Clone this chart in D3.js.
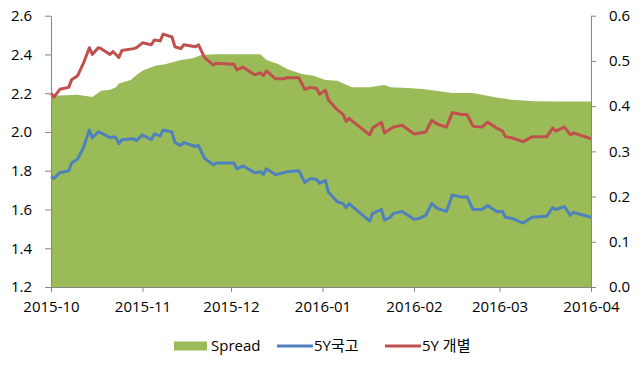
<!DOCTYPE html>
<html>
<head>
<meta charset="utf-8">
<script src="https://d3js.org/d3.v7.min.js"></script>
<style>
  body { margin: 0; background: #fff; }
  text { font-family: "Open Sans", "Noto Sans CJK KR", sans-serif; }
</style>
</head>
<body>
<script>
// dates shared by both yield lines
const lineDates = ['2015-10-01','2015-10-02','2015-10-04','2015-10-07','2015-10-08','2015-10-10','2015-10-12','2015-10-14','2015-10-15','2015-10-17','2015-10-18','2015-10-21','2015-10-22','2015-10-23','2015-10-24','2015-10-25','2015-10-29','2015-10-30','2015-11-01','2015-11-04','2015-11-05','2015-11-07','2015-11-08','2015-11-11','2015-11-12','2015-11-14','2015-11-15','2015-11-19','2015-11-20','2015-11-22','2015-11-25','2015-11-26','2015-12-02','2015-12-03','2015-12-05','2015-12-09','2015-12-11','2015-12-12','2015-12-13','2015-12-16','2015-12-19','2015-12-20','2015-12-24','2015-12-26','2015-12-28','2015-12-30','2015-12-31','2016-01-02','2016-01-03','2016-01-06','2016-01-08','2016-01-09','2016-01-10','2016-01-17','2016-01-18','2016-01-21','2016-01-22','2016-01-24','2016-01-25','2016-01-28','2016-02-01','2016-02-03','2016-02-05','2016-02-07','2016-02-09','2016-02-12','2016-02-14','2016-02-17','2016-02-19','2016-02-21','2016-02-24','2016-02-26','2016-02-29','2016-03-02','2016-03-03','2016-03-05','2016-03-09','2016-03-12','2016-03-17','2016-03-19','2016-03-20','2016-03-23','2016-03-25','2016-03-26','2016-04-01'];

// 5Y국고 (left axis)
const ktb5y = [1.77,1.76,1.79,1.80,1.84,1.86,1.92,2.01,1.97,2.00,1.995,1.97,1.975,1.97,1.94,1.96,1.965,1.955,1.985,1.96,1.99,1.98,2.01,2.00,1.945,1.93,1.945,1.925,1.93,1.865,1.83,1.84,1.84,1.81,1.825,1.79,1.795,1.78,1.81,1.78,1.79,1.795,1.80,1.74,1.76,1.755,1.735,1.75,1.69,1.64,1.63,1.61,1.63,1.54,1.58,1.60,1.545,1.56,1.58,1.59,1.55,1.555,1.57,1.63,1.605,1.59,1.675,1.665,1.665,1.60,1.60,1.62,1.59,1.59,1.56,1.555,1.53,1.56,1.565,1.61,1.60,1.615,1.57,1.585,1.56];

// 5Y 개별 (left axis)
const ind5y = [2.20,2.18,2.22,2.23,2.27,2.29,2.355,2.435,2.40,2.435,2.43,2.40,2.415,2.40,2.385,2.42,2.43,2.435,2.46,2.45,2.475,2.47,2.505,2.49,2.44,2.43,2.45,2.44,2.45,2.385,2.345,2.355,2.35,2.32,2.335,2.295,2.305,2.29,2.315,2.275,2.275,2.28,2.28,2.22,2.23,2.225,2.195,2.215,2.165,2.115,2.09,2.055,2.07,1.985,2.02,2.05,1.995,2.015,2.025,2.035,1.99,1.995,2.00,2.06,2.04,2.025,2.10,2.09,2.09,2.03,2.025,2.05,2.02,2.005,1.975,1.97,1.95,1.975,1.975,2.02,2.005,2.025,1.985,1.995,1.965];

// Spread (right axis)
const spreadDates = ['2015-10-01','2015-10-10','2015-10-15','2015-10-18','2015-10-21','2015-10-23','2015-10-24','2015-10-28','2015-10-30','2015-11-01','2015-11-05','2015-11-09','2015-11-14','2015-11-18','2015-11-21','2015-11-26','2015-12-11','2015-12-13','2015-12-17','2015-12-20','2015-12-25','2015-12-29','2016-01-02','2016-01-06','2016-01-11','2016-01-17','2016-01-22','2016-01-24','2016-01-30','2016-02-04','2016-02-14','2016-02-21','2016-02-28','2016-03-05','2016-03-13','2016-03-22','2016-04-01'];
const spread = [0.423,0.425,0.42,0.434,0.436,0.442,0.45,0.458,0.469,0.478,0.489,0.493,0.502,0.506,0.513,0.515,0.515,0.502,0.493,0.482,0.471,0.467,0.458,0.456,0.442,0.442,0.447,0.442,0.44,0.438,0.429,0.429,0.42,0.414,0.411,0.41,0.41];

const monthTicks = ['2015-10-01','2015-11-01','2015-12-01','2016-01-01','2016-02-01','2016-03-01','2016-04-01'];
const leftTicks = [1.2,1.4,1.6,1.8,2.0,2.2,2.4,2.6];
const rightTicks = [0.0,0.1,0.2,0.3,0.4,0.5,0.6];

const width = 644, height = 368;
const margin = { top: 15.7, right: 53, bottom: 81, left: 51 };
const parse = d3.timeParse('%Y-%m-%d');

const green = '#9bbb59', blue = '#4f81bd', red = '#c0504d', axisGray = '#868686';

const x = d3.scaleTime()
    .domain([parse('2015-10-01'), parse('2016-04-01')])
    .range([margin.left, width - margin.right]);
const yL = d3.scaleLinear().domain([1.2, 2.6]).range([height - margin.bottom, margin.top]);
const yR = d3.scaleLinear().domain([0, 0.6]).range([height - margin.bottom, margin.top]);

const svg = d3.select('body').append('svg')
    .attr('width', width).attr('height', height);

const spreadData = spreadDates.map((d, i) => ({ d: parse(d), v: spread[i] }));
svg.append('path')
    .datum(spreadData)
    .attr('fill', green)
    .attr('d', d3.area().x(d => x(d.d)).y0(yR(0)).y1(d => yR(d.v)));

const lineData = arr => lineDates.map((d, i) => ({ d: parse(d), v: arr[i] }));
const line = d3.line().x(d => x(d.d)).y(d => yL(d.v));

svg.append('path').datum(lineData(ktb5y))
    .attr('fill', 'none').attr('stroke', blue).attr('stroke-width', 3)
    .attr('stroke-linejoin', 'round').attr('d', line);
svg.append('path').datum(lineData(ind5y))
    .attr('fill', 'none').attr('stroke', red).attr('stroke-width', 3)
    .attr('stroke-linejoin', 'round').attr('d', line);

function styleAxis(g) {
  g.selectAll('.domain').attr('stroke', axisGray);
  g.selectAll('.tick line').attr('stroke', axisGray);
  g.selectAll('.tick text').attr('fill', '#000').style('font-size', '15px');
}

svg.append('g')
    .attr('transform', `translate(${margin.left},0)`)
    .call(d3.axisLeft(yL).tickValues(leftTicks).tickFormat(d3.format('.1f')).tickSize(6).tickSizeOuter(0).tickPadding(13))
    .call(styleAxis);

svg.append('g')
    .attr('transform', `translate(${width - margin.right},0)`)
    .call(d3.axisRight(yR).tickValues(rightTicks).tickFormat(d3.format('.1f')).tickSize(5).tickSizeOuter(0).tickPadding(13))
    .call(styleAxis);

svg.append('g')
    .attr('transform', `translate(0,${height - margin.bottom})`)
    .call(d3.axisBottom(x).tickValues(monthTicks.map(parse)).tickFormat(d3.timeFormat('%Y-%m')).tickSize(5).tickSizeOuter(0).tickPadding(9))
    .call(styleAxis);

// legend
const legend = svg.append('g').style('font-size', '15px');
const ly = 346;
legend.append('rect').attr('x', 174).attr('y', ly - 4.5).attr('width', 33).attr('height', 9).attr('fill', green);
legend.append('text').attr('x', 211).attr('y', ly).attr('dy', '0.35em').text('Spread');
legend.append('line').attr('x1', 277).attr('x2', 313).attr('y1', ly).attr('y2', ly).attr('stroke', blue).attr('stroke-width', 3);
legend.append('text').attr('x', 314).attr('y', ly).attr('dy', '0.35em').text('5Y국고');
legend.append('line').attr('x1', 385).attr('x2', 421).attr('y1', ly).attr('y2', ly).attr('stroke', red).attr('stroke-width', 3);
legend.append('text').attr('x', 422).attr('y', ly).attr('dy', '0.35em').text('5Y 개별');
</script>
</body>
</html>
